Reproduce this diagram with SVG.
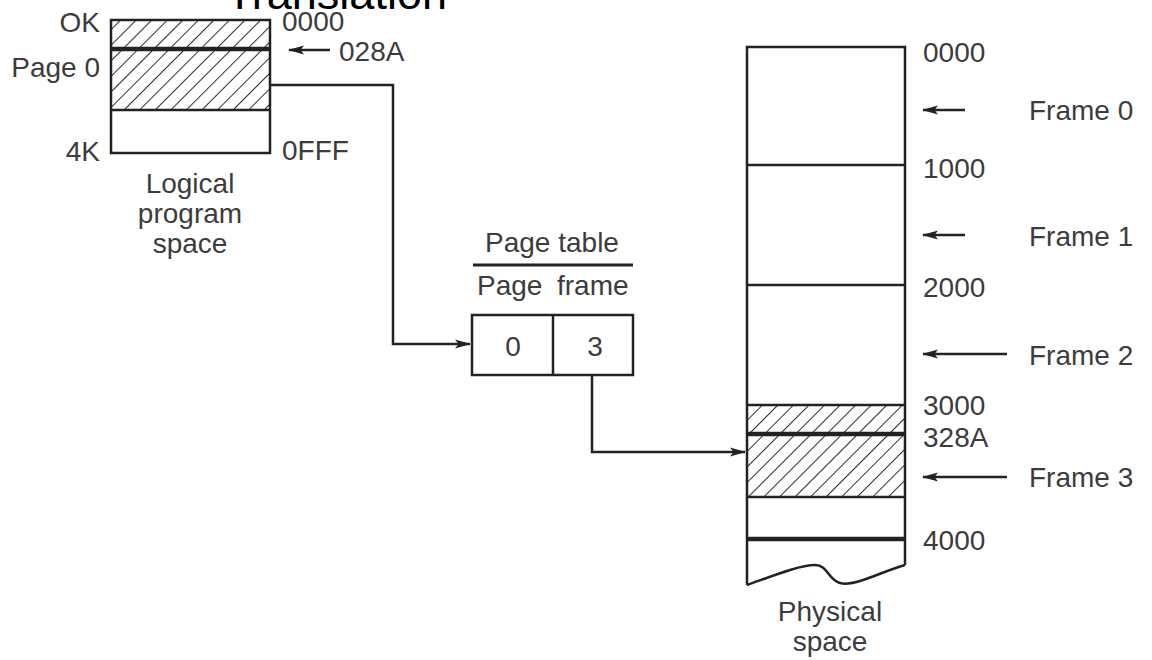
<svg xmlns="http://www.w3.org/2000/svg" width="1152" height="660" viewBox="0 0 1152 660">
<style>
.t{font-family:"Liberation Sans",Arial,sans-serif;font-size:28px;fill:#3c3c3c}
.m{text-anchor:middle}
.e{text-anchor:end}
.box{fill:none;stroke:#222;stroke-width:2.5}
.thick{stroke:#222;stroke-width:4.5}
.ln{stroke:#222;stroke-width:2.5;fill:none}
.hatch{fill:url(#h);stroke:none}
</style>
<defs>
<pattern id="h" patternUnits="userSpaceOnUse" width="11" height="11" patternTransform="rotate(45)">
<line x1="0" y1="0" x2="0" y2="11" stroke="#222" stroke-width="1.9"/>
</pattern>
<marker id="a" markerWidth="16" markerHeight="10" refX="15" refY="5" orient="auto" markerUnits="userSpaceOnUse">
<path d="M0,0.5 L16,5 L0,9.5 L3.5,5 Z" fill="#222"/>
</marker>
</defs>
<rect width="1152" height="660" fill="#fff"/>
<text x="226" y="9" style="font-family:'Liberation Sans',Arial,sans-serif;font-size:45px;fill:#000">Translation</text>

<g id="logical">
<rect class="hatch" x="111" y="20" width="159" height="90"/>
<rect class="box" x="111" y="20" width="159" height="133"/>
<line class="thick" x1="111" y1="49" x2="270" y2="49"/>
<line class="ln" x1="111" y1="110" x2="270" y2="110"/>
<text class="t e" x="100" y="32">OK</text>
<text class="t e" x="100" y="77">Page 0</text>
<text class="t e" x="100" y="161">4K</text>
<text class="t" x="282" y="31">0000</text>
<line class="ln" x1="330" y1="50" x2="289" y2="50" marker-end="url(#a)"/>
<text class="t" x="339" y="61">028A</text>
<text class="t" x="282" y="160">0FFF</text>
<text class="t m" x="190" y="193">Logical</text>
<text class="t m" x="190" y="223">program</text>
<text class="t m" x="190" y="253">space</text>
</g>

<g id="pagetable">
<text class="t m" x="552" y="252">Page table</text>
<line x1="473" y1="265" x2="633" y2="265" stroke="#222" stroke-width="3"/>
<text class="t" x="477" y="295">Page</text>
<text class="t" x="557" y="295">frame</text>
<rect class="box" x="472" y="315" width="161" height="60"/>
<line class="ln" x1="553" y1="315" x2="553" y2="375"/>
<text class="t m" x="513" y="356">0</text>
<text class="t m" x="595" y="356">3</text>
</g>

<g id="physical">
<rect class="hatch" x="747" y="405" width="158" height="92"/>
<path class="ln" d="M747,585 L747,47 L905,47 L905,565"/>
<path class="ln" d="M747,585 C775,575 800,565 815,565 C828,565 828,580 840,583 C855,587 880,572 905,565"/>
<line class="ln" x1="747" y1="165" x2="905" y2="165"/>
<line class="ln" x1="747" y1="285" x2="905" y2="285"/>
<line class="ln" x1="747" y1="405" x2="905" y2="405"/>
<line class="thick" x1="747" y1="434" x2="905" y2="434"/>
<line class="ln" x1="747" y1="497" x2="905" y2="497"/>
<line class="thick" x1="747" y1="539" x2="905" y2="539"/>
<text class="t" x="923" y="62">0000</text>
<text class="t" x="923" y="178">1000</text>
<text class="t" x="923" y="297">2000</text>
<text class="t" x="923" y="415">3000</text>
<text class="t" x="923" y="447">328A</text>
<text class="t" x="923" y="550">4000</text>
<line class="ln" x1="965" y1="110" x2="923" y2="110" marker-end="url(#a)"/>
<line class="ln" x1="965" y1="235" x2="923" y2="235" marker-end="url(#a)"/>
<line class="ln" x1="1007" y1="354" x2="923" y2="354" marker-end="url(#a)"/>
<line class="ln" x1="1007" y1="477" x2="923" y2="477" marker-end="url(#a)"/>
<text class="t" x="1029" y="120">Frame 0</text>
<text class="t" x="1029" y="246">Frame 1</text>
<text class="t" x="1029" y="365">Frame 2</text>
<text class="t" x="1029" y="487">Frame 3</text>
<text class="t m" x="830" y="621">Physical</text>
<text class="t m" x="830" y="651">space</text>
</g>

<g id="connectors">
<path class="ln" d="M270,85 L393,85 L393,344 L470,344" marker-end="url(#a)"/>
<path class="ln" d="M592,375 L592,452 L745,452" marker-end="url(#a)"/>
</g>
</svg>
